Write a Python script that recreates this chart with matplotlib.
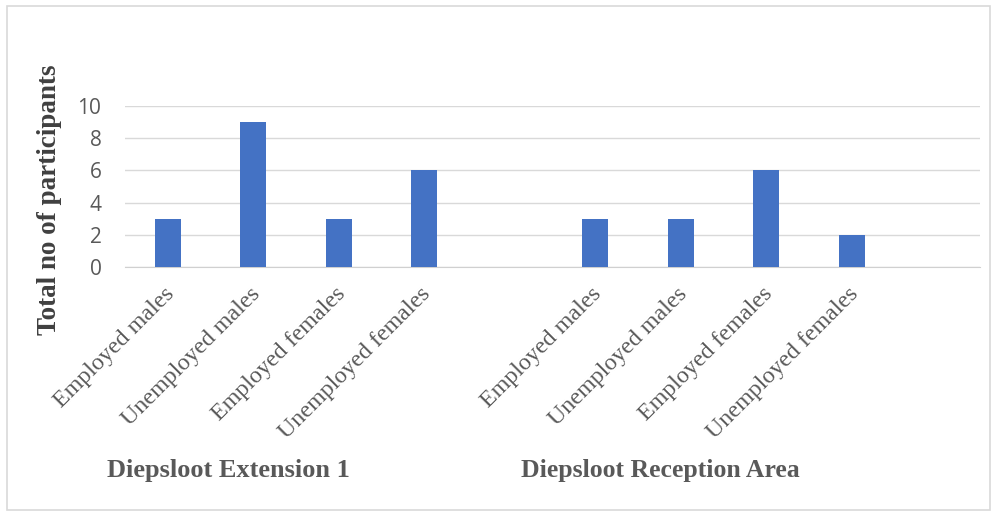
import numpy as np
import matplotlib.pyplot as plt
from matplotlib.patches import Rectangle
from matplotlib.transforms import ScaledTranslation

# Daten
categories = ['Employed males', 'Unemployed males', 'Employed females', 'Unemployed females',
              '',
              'Employed males', 'Unemployed males', 'Employed females', 'Unemployed females',
              '']
counts = [3, 9, 3, 6, np.nan, 3, 3, 6, 2, np.nan]
groups = ['Diepsloot Extension 1', 'Diepsloot Reception Area']
yticks = [0, 2, 4, 6, 8, 10]

grey = '#595959'
serif = ['Liberation Serif', 'DejaVu Serif']

fig = plt.figure(figsize=(9.98, 5.13), dpi=100)
ax = fig.add_axes([125/998, 1-267/513, 855/998, 161/513])

x = np.arange(len(categories))
ax.bar(x, np.nan_to_num(counts), width=0.3, color='#4472C4', zorder=3)

ax.set_xlim(-0.5, len(categories) - 0.5)
ax.set_ylim(0, 10)
ax.set_yticks(yticks)
ax.set_yticklabels([str(v) for v in yticks], fontsize=15, color=grey,
                   family=['Open Sans', 'DejaVu Sans'])
ax.grid(axis='y', color='#d9d9d9', linewidth=1, zorder=0)
ax.tick_params(axis='y', length=0, pad=17)
ax.tick_params(axis='x', length=0, pad=6)
for side in ['top', 'right', 'left']:
    ax.spines[side].set_visible(False)
ax.spines['bottom'].set_color('#d0d0d0')

ax.set_xticks(x)
ax.set_xticklabels(categories, rotation=45, ha='right', va='top',
                   rotation_mode='anchor', fontsize=17.3, color=grey, family=serif)
for lbl in ax.get_xticklabels():
    lbl.set_transform(lbl.get_transform() + ScaledTranslation(-0.04, -0.08, fig.dpi_scale_trans))

ax.set_ylabel('Total no of participants', fontsize=19.5, fontweight='bold',
              color='#404040', family=serif)
ax.yaxis.set_label_coords(-0.074, 0.42)

fig.text(228/998, 1-470/513, groups[0], ha='center', va='center',
         fontsize=19, fontweight='bold', color=grey, family=serif)
fig.text(660/998, 1-470/513, groups[1], ha='center', va='center',
         fontsize=18.5, fontweight='bold', color=grey, family=serif)

fig.patches.append(Rectangle((7/998, 3/513), 983/998, 504/513, transform=fig.transFigure,
                             fill=False, edgecolor='#d9d9d9', linewidth=1.2))

fig.savefig('out.png', dpi=100)
